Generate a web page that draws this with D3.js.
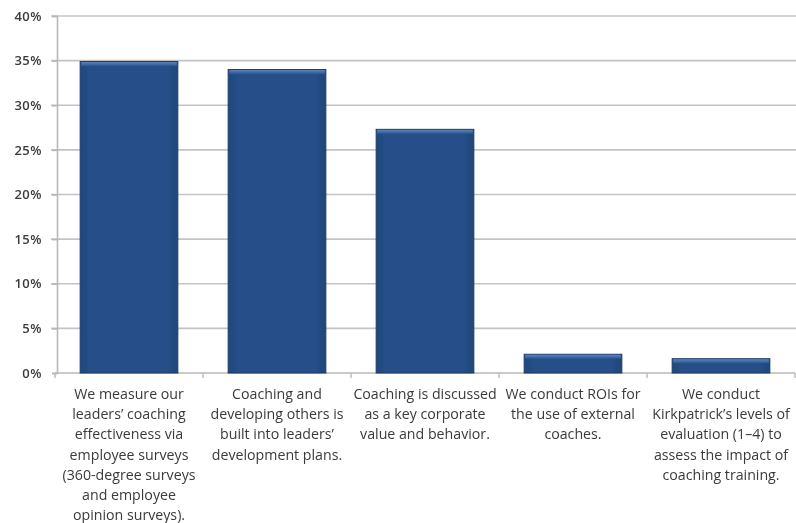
<!DOCTYPE html>
<html>
<head>
<meta charset="utf-8">
<script src="https://cdn.jsdelivr.net/npm/d3@7"></script>
<style>
  html, body { margin: 0; padding: 0; background: #fff; }
  svg { display: block; }
  text { font-family: "Open Sans", Lato, "Liberation Sans", sans-serif; fill: #3a3a3a; }
</style>
</head>
<body>
<svg id="chart" width="796" height="523"></svg>
<script>
// Coaching practices, share of respondents
const categories = [
  "We measure our leaders’ coaching effectiveness via employee surveys (360-degree surveys and employee opinion surveys).",
  "Coaching and developing others is built into leaders’ development plans.",
  "Coaching is discussed as a key corporate value and behavior.",
  "We conduct ROIs for the use of external coaches.",
  "We conduct Kirkpatrick’s levels of evaluation (1–4) to assess the impact of coaching training."
];
const categoryLines = [
  ["We measure our", "leaders’ coaching", "effectiveness via", "employee surveys", "(360-degree surveys", "and employee", "opinion surveys)."],
  ["Coaching and", "developing others is", "built into leaders’", "development plans."],
  ["Coaching is discussed", "as a key corporate", "value and  behavior."],
  ["We conduct ROIs for", "the use of external", "coaches."],
  ["We conduct", "Kirkpatrick’s levels of", "evaluation (1–4) to", "assess the impact of", "coaching training."]
];
const values = [0.349, 0.340, 0.273, 0.021, 0.016];
const yTicks = [0, 0.05, 0.10, 0.15, 0.20, 0.25, 0.30, 0.35, 0.40];

const svg = d3.select("#chart");
const plotLeft = 55, plotRight = 795, plotTop = 16, plotBottom = 373;

const x = d3.scaleBand().domain(categories).range([plotLeft, plotRight]).paddingInner(0.34).paddingOuter(0.17);
const y = d3.scaleLinear().domain([0, 0.40]).range([plotBottom, plotTop]);

// gradient & bevel for the bars
const defs = svg.append("defs");
const grad = defs.append("linearGradient").attr("id", "barFill").attr("x1", 0).attr("x2", 1).attr("y1", 0).attr("y2", 0);
grad.append("stop").attr("offset", "0%").attr("stop-color", "#21487c");
grad.append("stop").attr("offset", "12%").attr("stop-color", "#27508a");
grad.append("stop").attr("offset", "88%").attr("stop-color", "#27508a");
grad.append("stop").attr("offset", "100%").attr("stop-color", "#1f4578");
const topGrad = defs.append("linearGradient").attr("id", "barTop").attr("x1", 0).attr("x2", 0).attr("y1", 0).attr("y2", 1);
topGrad.append("stop").attr("offset", "0%").attr("stop-color", "#5b84bb");
topGrad.append("stop").attr("offset", "100%").attr("stop-color", "#2c5690");
const soft = defs.append("filter").attr("id", "soft");
soft.append("feGaussianBlur").attr("stdDeviation", 0.45);

const g = svg.append("g").attr("filter", "url(#soft)");

// horizontal gridlines
g.append("g")
  .selectAll("line")
  .data(yTicks.filter(d => d > 0))
  .join("line")
  .attr("x1", plotLeft - 4).attr("x2", 796)
  .attr("y1", d => y(d)).attr("y2", d => y(d))
  .attr("stroke", "#c4c4c4").attr("stroke-width", 1.6);

// y axis
const yAxis = d3.axisLeft(y).tickValues(yTicks).tickFormat(d3.format(".0%")).tickSize(5).tickPadding(10);
const ya = g.append("g").attr("transform", `translate(${plotLeft + 2},0)`).call(yAxis);
ya.select(".domain").attr("stroke", "#b8b8b8").attr("stroke-width", 1.6);
ya.selectAll(".tick line").attr("stroke", "#b8b8b8").attr("stroke-width", 1.6);
ya.selectAll(".tick text")
  .attr("font-size", 13).attr("font-family", "'Open Sans', sans-serif")
  .attr("font-weight", 600).attr("letter-spacing", 0.5).attr("fill", "#454545");

// x axis baseline with boundary ticks
const bounds = categories.map(c => x(c) - x.step() * x.paddingInner() / 2).concat([plotRight]);
g.append("line").attr("x1", plotLeft).attr("x2", plotRight).attr("y1", plotBottom).attr("y2", plotBottom)
  .attr("stroke", "#b8b8b8").attr("stroke-width", 1.6);
g.append("g").selectAll("line").data(bounds).join("line")
  .attr("x1", d => d).attr("x2", d => d).attr("y1", plotBottom).attr("y2", plotBottom + 5)
  .attr("stroke", "#b8b8b8").attr("stroke-width", 1.4);

// bars
const bars = g.append("g").selectAll("g").data(categories).join("g");
bars.append("rect")
  .attr("x", d => x(d)).attr("width", x.bandwidth())
  .attr("y", (d, i) => y(values[i])).attr("height", (d, i) => y(0) - y(values[i]))
  .attr("fill", "url(#barFill)").attr("stroke", "#1b3c68").attr("stroke-width", 1);
bars.append("rect")
  .attr("x", d => x(d) + 1).attr("width", x.bandwidth() - 2)
  .attr("y", (d, i) => y(values[i]) + 0.5).attr("height", 4)
  .attr("fill", "url(#barTop)");

// category labels
const labels = g.append("g").selectAll("text").data(categories).join("text")
  .attr("text-anchor", "middle")
  .attr("font-size", 14.2)
  .attr("fill", "#333333");
labels.each(function(d, i) {
  d3.select(this).selectAll("tspan").data(categoryLines[i]).join("tspan")
    .attr("x", x(d) + x.bandwidth() / 2)
    .attr("y", (t, j) => 399 + j * 20.2)
    .text(t => t);
});
</script>
</body>
</html>
